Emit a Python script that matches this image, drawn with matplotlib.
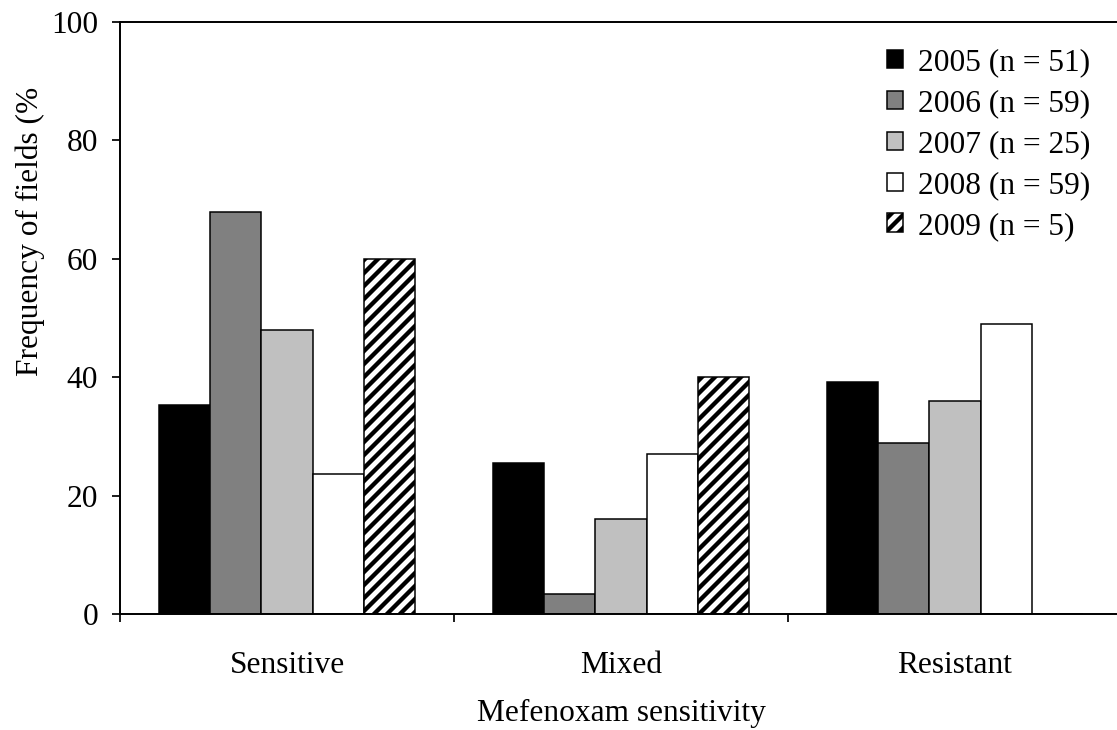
import matplotlib
matplotlib.use("Agg")
import matplotlib.pyplot as plt
import numpy as np

# data
categories = ["Sensitive", "Mixed", "Resistant"]
years = ["2005 (n = 51)", "2006 (n = 59)", "2007 (n = 25)", "2008 (n = 59)", "2009 (n = 5)"]
v2005 = [35.3, 25.5, 39.2]
v2006 = [67.9, 3.4, 28.9]
v2007 = [48.0, 16.0, 36.0]
v2008 = [23.7, 27.1, 49.0]
v2009 = [60.0, 40.0, 0.0]

series = [v2005, v2006, v2007, v2008, v2009]
colors = ["black", "#808080", "#c0c0c0", "white", "white"]
hatches = [None, None, None, None, "//"]

DPI = 78
FS = 29
plt.rcParams["font.family"] = ["Liberation Serif", "DejaVu Serif"]
plt.rcParams["hatch.linewidth"] = 4.0
plt.rcParams["hatch.color"] = "black"

fig = plt.figure(figsize=(1117 / DPI, 730 / DPI), dpi=DPI)
ax = fig.add_axes([120 / 1117, 1 - 614 / 730, 1002 / 1117, 592 / 730])

x = np.arange(len(categories))
w = 0.153
for i, vals in enumerate(series):
    ax.bar(x + (i - 2) * w, vals, width=w, color=colors[i], edgecolor="black",
           linewidth=1.4, hatch=hatches[i], label=years[i])

ax.set_xlim(-0.5, 2.5)
ax.set_ylim(0, 100)
ax.set_yticks([0, 20, 40, 60, 80, 100])
ax.set_xticks(x)
ax.set_xticklabels(categories)
ax.set_xticks([-0.5, 0.5, 1.5, 2.5], minor=True)
ax.tick_params(axis="x", which="major", length=0, pad=34, labelsize=FS)
ax.tick_params(axis="x", which="minor", length=7.5, width=1.6, direction="out")
ax.tick_params(axis="y", length=7, width=1.6, pad=13, labelsize=FS)

for s in ["left", "bottom", "top"]:
    ax.spines[s].set_linewidth(1.8)
ax.spines["right"].set_visible(False)

ax.set_xlabel("Mefenoxam sensitivity", fontsize=FS, labelpad=18)
fig.text(30 / 1117, 1 - 231 / 730, "Frequency of fields (%", rotation=90,
         ha="center", va="center", fontsize=FS)

ax.legend(loc="upper right", bbox_to_anchor=(1090 / 1117, 1 - 48 / 730),
          bbox_transform=fig.transFigure, frameon=False, fontsize=FS,
          handlelength=0.52, handleheight=0.52, handletextpad=0.45,
          labelspacing=0.38, borderaxespad=0, borderpad=0)

fig.savefig("out.png", dpi=DPI)
